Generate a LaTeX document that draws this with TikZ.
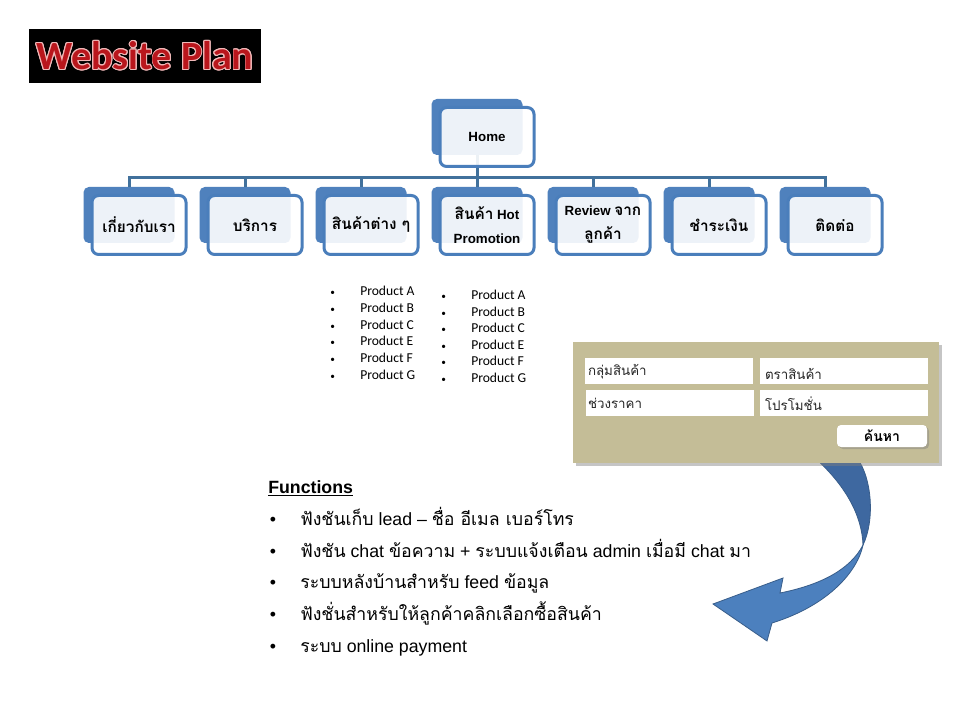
\documentclass[tikz,border=0pt]{standalone}
\usepackage{fontspec}
\setmainfont{Liberation Sans}
\newfontfamily\thaifont[Script=Thai]{Loma}
\newfontfamily\calib{Carlito}
\usepackage{contour}
\contourlength{0.7pt}
\usetikzlibrary{shadows,calc}
\definecolor{bluefill}{RGB}{79,129,189}
\definecolor{blueline}{RGB}{74,126,187}
\definecolor{connc}{RGB}{65,113,156}
\definecolor{tanbg}{RGB}{196,189,151}
\definecolor{titlered}{RGB}{185,22,28}
\definecolor{titleedge}{RGB}{240,185,185}
\definecolor{arrtop}{RGB}{62,104,160}
\definecolor{arrbot}{RGB}{76,128,190}
\definecolor{arrline}{RGB}{56,93,138}
\newcommand\thx[1]{{\thaifont #1}}
\newcommand\thb[1]{{\thaifont\fontsize{11.5}{18}\selectfont #1}}
\begin{document}
\begin{tikzpicture}[x=0.75pt,y=-0.75pt,
  backbox/.style={fill=bluefill, rounded corners=4pt, minimum width=68.25pt, minimum height=42pt, inner sep=0pt},
  frontbox/.style={draw=blueline, line width=2.25pt, fill=white, fill opacity=0.9, text opacity=1, rounded corners=5pt, minimum width=70.5pt, minimum height=44.25pt, inner sep=0pt, align=center, font=\bfseries\fontsize{10}{18}\selectfont},
  conn/.style={draw=connc, line width=2.25pt},
  prod/.style={anchor=west, inner sep=0pt, font=\calib\fontsize{10.2}{12}\selectfont, text height=6.8pt, text depth=0pt},
  pbul/.style={anchor=west, inner sep=0pt, font=\calib\fontsize{7}{12}\selectfont, text height=6.8pt, text depth=0pt},
  field/.style={fill=white, minimum width=126pt, minimum height=19.5pt, inner sep=0pt},
  fieldtext/.style={anchor=west, inner sep=0pt, font=\thaifont\fontsize{10}{12}\selectfont, text=black!85},
  funcline/.style={anchor=base west, inner sep=0pt, font=\fontsize{13.3}{16}\selectfont},
  funcbul/.style={anchor=base, inner sep=0pt, font=\fontsize{13.3}{16}\selectfont}
]
\useasboundingbox (0,0) rectangle (960,720);
\fill[white] (0,0) rectangle (960,720);

% Title
\node[fill=black, minimum width=174pt, minimum height=40.5pt, inner sep=0pt] (titlebox) at (145,56) {};
\node[inner sep=0pt, text=titlered, font=\calib\bfseries\fontsize{30}{30}\selectfont] (title) at (titlebox.center) {\contour{titleedge}{Website Plan}};

% back boxes
\node[backbox] (hb) at (477,127) {};
\foreach \x [count=\i] in {129,245,361,477,593,709,825} {
  \node[backbox] (b\i) at (\x,215) {};
}
% connectors
\foreach \i in {1,...,7} {
  \draw[conn] (hb.south) -- ++(0,22) -| (b\i.north);
}
% front boxes
\node[frontbox] (hf) at ($(hb.center)+(10,10)$) {Home};
\node[frontbox] (f1) at ($(b1.center)+(10,10)$) {\thb{เกี่ยวกับเรา}};
\node[frontbox] (f2) at ($(b2.center)+(10,10)$) {\thb{บริการ}};
\node[frontbox] (f3) at ($(b3.center)+(10,10)$) {\thb{สินค้าต่าง ๆ}};
\node[frontbox] (f4) at ($(b4.center)+(10,10)$) {\thb{สินค้า} Hot\\Promotion};
\node[frontbox] (f5) at ($(b5.center)+(10,10)$) {Review \thb{จาก}\\\thb{ลูกค้า}};
\node[frontbox] (f6) at ($(b6.center)+(10,10)$) {\thb{ชำระเงิน}};
\node[frontbox] (f7) at ($(b7.center)+(10,10)$) {\thb{ติดต่อ}};

% product lists
\foreach \p [count=\i] in {A,B,C,E,F,G} {
  \node[prod] (pa\i) at (360,{291+16.8*(\i-1)}) {Product \p};
  \node[pbul] (pab\i) at (330,{291+16.8*(\i-1)}) {•};
  \node[prod] (pb\i) at (471,{295+16.6*(\i-1)}) {Product \p};
  \node[pbul] (pbb\i) at (441,{295+16.6*(\i-1)}) {•};
}

% curved arrow
\filldraw[fill=arrtop, draw=arrline, line width=0.6pt]
  (815,458) .. controls (845,485) and (862,515) .. (863,545)
  .. controls (875,520) and (872,478) .. (857,458) -- cycle;
\filldraw[fill=arrbot, draw=arrline, line width=0.6pt]
  (863,545) .. controls (858,570) and (830,605) .. (772,623)
  -- (767,641) -- (713,604) -- (783,578) -- (780,593)
  .. controls (820,585) and (850,570) .. (863,545) -- cycle;

% search panel
\node[fill=tanbg, minimum width=274.5pt, minimum height=90.75pt, inner sep=0pt,
  drop shadow={shadow xshift=2pt, shadow yshift=-2pt, opacity=0.45}] (panel) at (756,402.5) {};
\node[field] (s1) at (669,371) {};
\node[field] (s2) at (844,371) {};
\node[field] (s3) at (670,402.5) {};
\node[field] (s4) at (844,402.5) {};
\node[fieldtext] (t1) at ($(s1.west)+(3,1)$) {กลุ่มสินค้า};
\node[fieldtext] (t2) at ($(s2.west)+(5,3)$) {ตราสินค้า};
\node[fieldtext] (t3) at ($(s3.west)+(2,1)$) {ช่วงราคา};
\node[fieldtext] (t4) at ($(s4.west)+(5,1)$) {โปรโมชั่น};
\node[fill=white, rounded corners=3pt, minimum width=67.5pt, minimum height=16.5pt, inner sep=0pt,
  drop shadow={shadow xshift=1.5pt, shadow yshift=-1.5pt, opacity=0.45},
  font=\thaifont\bfseries\fontsize{10.5}{12}\selectfont] (btn) at (882,436) {ค้นหา};

% functions
\node[funcline, font=\bfseries\fontsize{13.3}{16}\selectfont] (fh) at (268,493) {\underline{Functions}};
\foreach \y [count=\i] in {525,557,588,620,652} {
  \node[funcbul] (fb\i) at (273,\y) {•};
}
\node[funcline] (fl1) at (300,525) {\thx{ฟังชันเก็บ} lead – \thx{ชื่อ อีเมล  เบอร์โทร}};
\node[funcline] (fl2) at (300,557) {\thx{ฟังชัน} chat \thx{ข้อความ} + \thx{ระบบแจ้งเตือน} admin \thx{เมื่อมี} chat \thx{มา}};
\node[funcline] (fl3) at (300,588) {\thx{ระบบหลังบ้านสำหรับ} feed \thx{ข้อมูล}};
\node[funcline] (fl4) at (300,620) {\thx{ฟังชั่นสำหรับให้ลูกค้าคลิกเลือกซื้อสินค้า}};
\node[funcline] (fl5) at (300,652) {\thx{ระบบ} online payment};
\end{tikzpicture}
\end{document}
